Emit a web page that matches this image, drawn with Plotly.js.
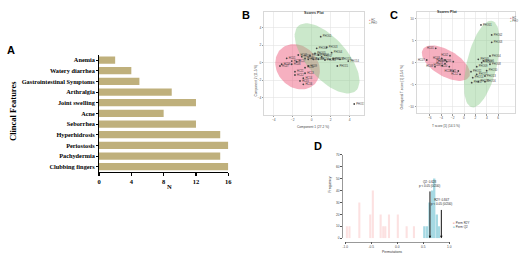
<!DOCTYPE html>
<html><head><meta charset="utf-8">
<script src="https://cdn.plot.ly/plotly-3.0.1.min.js"></script>
<style>html,body{margin:0;padding:0;background:#fff}#chart{width:520px;height:259px}</style>
</head><body><div id="chart"></div>
<script>
// ---------- Panel A data ----------
const featureNames = ["Anemia","Watery diarrhea","Gastrointestinal Symptoms","Arthralgia","Joint swelling","Acne","Seborrhea","Hyperhidrosis","Periostosis","Pachydermia","Clubbing fingers"];
const featureCounts = [2,4,5,9,12,8,12,15,16,15,16];
const nTicks = [0,4,8,12,16];

// ---------- Panel B data (PCA scores) ----------
const pcaHC_x = [-2.63,-1.41,-1.05,-0.36,-0.7,-3.16,-3.34,-2.1,-0.36,-0.7,-1.76,-1.76,-0.7,-0.88,-1.23,-0.88,-1.58,-2.1];
const pcaHC_y = [0.5,0.88,0.69,0.39,0.5,-0.18,-0.38,-0.18,-0.38,-0.57,-1.03,-1.41,-1.21,-1.78,-2.09,-2.47,0.11,0.19];
const pcaPHO_x = [0.95,0.53,1.58,2.1,0.35,0.7,1.05,-0.18,0.17,0.7,1.93,2.27,2.98,3.85,2.7,1.4,4.48];
const pcaPHO_y = [2.97,1.64,1.76,1.14,1.07,0.88,0.69,0.8,0.39,0.39,0.39,0.42,0.39,0.19,-0.38,0.31,-4.72];
const pcaTicks = [-4,-2,0,2,4];

// ---------- Panel C data (OPLS-DA scores) ----------
const oplsHC_x = [-4.96,-2.46,-3.91,-3.33,-1.88,-3.04,-6.54,-5.09,-3.8,-2.58,-1.0,-0.7,-1.88,-3.33];
const oplsHC_y = [3.27,1.59,1.0,0.61,0.23,0.23,0.61,-0.91,-0.68,-0.91,-1.89,-2.64,-1.89,-0.23];
const oplsPHO_x = [2.98,4.86,4.86,4.56,2.51,3.39,3.1,4.56,2.23,3.98,1.23,2.23,3.68,1.53,2.51,3.68,1.35];
const oplsPHO_y = [8.57,6.3,4.63,1.52,0.77,0.39,0,-0.36,-0.91,-1.82,-2.05,-2.64,-3.02,-3.41,-4.32,-4.32,-4.55];
const oplsXTicks = [-6,-4,-2,0,2,4,6];
const oplsYTicks = [-10,-5,0,5,10];

// ---------- Panel D data (permutation test) ----------
const permR2Y_x = [-0.97,-0.92,-0.73,-0.52,-0.47,-0.32,-0.27,-0.23,-0.16,0.01,0.18,0.32];
const permR2Y_n = [10,10,30,20,40,20,10,10,20,20,10,10];
const permQ2_x = [0.52,0.57,0.62,0.67,0.71,0.76,0.80];
const permQ2_n = [10,10,30,40,50,20,10];
const q2Value = 0.628, r2yValue = 0.847;
const permXTicks = [-1.0,-0.5,0.0,0.5,1.0];
const permYTicks = [0,10,20,30,40,50,60,70];

function labels(prefix, n){ const a=[]; for(let i=1;i<=n;i++) a.push(prefix+(i<10?"0":"")+i); return a; }

// confidence ellipse computed from the scores
function ellipse(xs, ys, k){
  const n = xs.length;
  const mx = xs.reduce((a,b)=>a+b,0)/n, my = ys.reduce((a,b)=>a+b,0)/n;
  let sxx=0,syy=0,sxy=0;
  for(let i=0;i<n;i++){ const dx=xs[i]-mx, dy=ys[i]-my; sxx+=dx*dx; syy+=dy*dy; sxy+=dx*dy; }
  sxx/=(n-1); syy/=(n-1); sxy/=(n-1);
  const tr=sxx+syy, det=sxx*syy-sxy*sxy;
  const d=Math.sqrt(Math.max(tr*tr/4-det,0));
  const l1=tr/2+d, l2=Math.max(tr/2-d,0);
  const th=0.5*Math.atan2(2*sxy, sxx-syy);
  const ex=[], ey=[];
  for(let j=0;j<=80;j++){
    const t=2*Math.PI*j/80;
    const a=k*Math.sqrt(l1)*Math.cos(t), b=k*Math.sqrt(l2)*Math.sin(t);
    ex.push(mx + a*Math.cos(th) - b*Math.sin(th));
    ey.push(my + a*Math.sin(th) + b*Math.cos(th));
  }
  return {x:ex, y:ey};
}

const pinkFill = "rgba(236,80,115,0.45)";
const greenFill = "rgba(130,200,130,0.42)";
const ptColor = "#444";
const kEll = 2.6;

const traces = [];
// A
traces.push({type:"bar", orientation:"h", y:featureNames, x:featureCounts, xaxis:"x", yaxis:"y",
  marker:{color:"#bfb07c"}, width:0.68, showlegend:false, hoverinfo:"skip"});
// B
const eB1 = ellipse(pcaHC_x, pcaHC_y, kEll), eB2 = ellipse(pcaPHO_x, pcaPHO_y, kEll);
traces.push({type:"scatter", mode:"lines", x:eB1.x, y:eB1.y, fill:"toself", fillcolor:pinkFill, line:{width:0}, xaxis:"x2", yaxis:"y2", showlegend:false, hoverinfo:"skip"});
traces.push({type:"scatter", mode:"lines", x:eB2.x, y:eB2.y, fill:"toself", fillcolor:greenFill, line:{width:0}, xaxis:"x2", yaxis:"y2", showlegend:false, hoverinfo:"skip"});
traces.push({type:"scatter", mode:"markers+text", x:pcaHC_x, y:pcaHC_y, text:labels("HC",pcaHC_x.length), textposition:"middle right", textfont:{size:2.6,color:"#333"}, marker:{size:1.8,color:ptColor}, xaxis:"x2", yaxis:"y2", showlegend:false});
traces.push({type:"scatter", mode:"markers+text", x:pcaPHO_x, y:pcaPHO_y, text:labels("PHO",pcaPHO_x.length), textposition:"middle right", textfont:{size:2.6,color:"#333"}, marker:{size:1.8,color:ptColor}, xaxis:"x2", yaxis:"y2", showlegend:false});
// C
const eC1 = ellipse(oplsHC_x, oplsHC_y, kEll), eC2 = ellipse(oplsPHO_x, oplsPHO_y, kEll);
traces.push({type:"scatter", mode:"lines", x:eC1.x, y:eC1.y, fill:"toself", fillcolor:pinkFill, line:{width:0}, xaxis:"x3", yaxis:"y3", showlegend:false, hoverinfo:"skip"});
traces.push({type:"scatter", mode:"lines", x:eC2.x, y:eC2.y, fill:"toself", fillcolor:greenFill, line:{width:0}, xaxis:"x3", yaxis:"y3", showlegend:false, hoverinfo:"skip"});
traces.push({type:"scatter", mode:"markers+text", x:oplsHC_x, y:oplsHC_y, text:labels("HC",oplsHC_x.length), textposition:"middle left", textfont:{size:2.6,color:"#333"}, marker:{size:1.8,color:ptColor}, xaxis:"x3", yaxis:"y3", showlegend:false});
traces.push({type:"scatter", mode:"markers+text", x:oplsPHO_x, y:oplsPHO_y, text:labels("PHO",oplsPHO_x.length), textposition:"middle right", textfont:{size:2.6,color:"#333"}, marker:{size:1.8,color:ptColor}, xaxis:"x3", yaxis:"y3", showlegend:false});
// D
traces.push({type:"bar", x:permR2Y_x, y:permR2Y_n, width:0.04, marker:{color:"rgba(250,200,200,0.55)"}, xaxis:"x4", yaxis:"y4", showlegend:false, hoverinfo:"skip"});
traces.push({type:"bar", x:permQ2_x, y:permQ2_n, width:0.045, marker:{color:"rgba(150,210,222,0.85)"}, xaxis:"x4", yaxis:"y4", showlegend:false, hoverinfo:"skip"});

const W=520,H=259;
const px = v => v/W, py = v => 1 - v/H;

const scoreAxis = (extra) => Object.assign({showgrid:true, gridcolor:"#e3e3e3", gridwidth:0.6, zeroline:false,
  showline:true, mirror:true, linecolor:"#c8c8c8", linewidth:0.7, ticks:"outside", ticklen:1.5, tickcolor:"#999",
  tickfont:{size:3.2, color:"#555", family:"Liberation Sans"}, fixedrange:true}, extra);

const ann = [];
const bold = "Liberation Sans";
ann.push({text:"<b>A</b>", x:px(4.5), y:py(42), xref:"paper", yref:"paper", showarrow:false, font:{size:11, family:bold, color:"#000"}});
ann.push({text:"<b>B</b>", x:px(246), y:py(7), xref:"paper", yref:"paper", showarrow:false, font:{size:11, family:bold, color:"#000"}});
ann.push({text:"<b>C</b>", x:px(400), y:py(7), xref:"paper", yref:"paper", showarrow:false, font:{size:11, family:bold, color:"#000"}});
ann.push({text:"<b>D</b>", x:px(318), y:py(146), xref:"paper", yref:"paper", showarrow:false, font:{size:11, family:bold, color:"#000"}});
// A titles
ann.push({text:"<b>Clincal Features</b>", x:px(6), y:py(111), xref:"paper", yref:"paper", showarrow:false, textangle:-90, font:{size:8.5, family:"Liberation Serif", color:"#000"}});
ann.push({text:"<b>N</b>", x:px(165), y:py(192), xref:"paper", yref:"paper", showarrow:false, font:{size:6.5, family:"Liberation Serif", color:"#000"}});
// B titles
ann.push({text:"<b>Scores Plot</b>", x:px(314), y:py(9), xref:"paper", yref:"paper", showarrow:false, font:{size:3.6, family:bold, color:"#333"}});
ann.push({text:"Component 1 (27.2 %)", x:px(313), y:py(126.5), xref:"paper", yref:"paper", showarrow:false, font:{size:3.2, family:bold, color:"#444"}});
ann.push({text:"Component 2 (11.5 %)", x:px(255.5), y:py(63), xref:"paper", yref:"paper", showarrow:false, textangle:-90, font:{size:3.2, family:bold, color:"#444"}});
ann.push({text:"<span style='color:#e66a86'>●</span> HC<br><span style='color:#7cc47c'>●</span> PHO", x:px(367), y:py(15.5), xref:"paper", yref:"paper", xanchor:"left", yanchor:"top", align:"left", showarrow:false, font:{size:2.6, family:bold, color:"#444"}});
// C titles
ann.push({text:"<b>Scores Plot</b>", x:px(460), y:py(8), xref:"paper", yref:"paper", showarrow:false, font:{size:3.6, family:bold, color:"#333"}});
ann.push({text:"T score [1] (14.5 %)", x:px(462), y:py(125.5), xref:"paper", yref:"paper", showarrow:false, font:{size:3.2, family:bold, color:"#444"}});
ann.push({text:"Orthogonal T score [1] (15.6 %)", x:px(406), y:py(63), xref:"paper", yref:"paper", showarrow:false, textangle:-90, font:{size:3.2, family:bold, color:"#444"}});
ann.push({text:"<span style='color:#e66a86'>●</span> HC<br><span style='color:#7cc47c'>●</span> PHO", x:px(508), y:py(14), xref:"paper", yref:"paper", xanchor:"left", yanchor:"top", align:"left", showarrow:false, font:{size:2.6, family:bold, color:"#444"}});
// D titles
ann.push({text:"Permutations", x:px(404), y:py(256), xref:"paper", yref:"paper", showarrow:false, font:{size:3.4, family:bold, color:"#333"}});
ann.push({text:"Frequency", x:px(329.5), y:py(195), xref:"paper", yref:"paper", showarrow:false, textangle:-90, font:{size:3.4, family:bold, color:"#333"}});
ann.push({text:"<span style='color:#f4b8b8'>■</span> Perm R2Y<br><span style='color:#96d2de'>■</span> Perm Q2", x:px(451), y:py(219), xref:"paper", yref:"paper", xanchor:"left", yanchor:"top", align:"left", showarrow:false, font:{size:3, family:bold, color:"#333"}});
// D arrows
ann.push({text:"", x:q2Value, y:0, ax:q2Value, ay:40.5, xref:"x4", yref:"y4", axref:"x4", ayref:"y4", showarrow:true, arrowhead:2, arrowsize:0.5, arrowwidth:1, arrowcolor:"#111"});
ann.push({text:"", x:r2yValue, y:0, ax:r2yValue, ay:25, xref:"x4", yref:"y4", axref:"x4", ayref:"y4", showarrow:true, arrowhead:2, arrowsize:0.5, arrowwidth:1, arrowcolor:"#111"});
ann.push({text:"Q2: "+q2Value.toFixed(3)+"<br>p &lt; 0.05 (0/200)", x:q2Value, y:40.8, xref:"x4", yref:"y4", yanchor:"bottom", showarrow:false, font:{size:3, family:bold, color:"#222"}});
ann.push({text:"R2Y: "+r2yValue.toFixed(3)+"<br>p &lt; 0.05 (0/200)", x:r2yValue+0.005, y:25.3, xref:"x4", yref:"y4", yanchor:"bottom", showarrow:false, font:{size:3, family:bold, color:"#222"}});

const layout = {
  width:W, height:H, autosize:false, margin:{l:0,r:0,t:0,b:0,pad:0},
  paper_bgcolor:"#fff", plot_bgcolor:"rgba(0,0,0,0)", showlegend:false, barmode:"overlay",
  font:{family:"Liberation Sans"},
  xaxis:{domain:[px(99), px(228.3)], range:[0,16], tickvals:nTicks, ticks:"outside", ticklen:3, tickwidth:1.2, tickcolor:"#000",
    showline:true, linecolor:"#000", linewidth:1.4, showgrid:false, zeroline:false, anchor:"y",
    tickfont:{size:6.5, family:"Liberation Serif", color:"#000", weight:"bold"}, fixedrange:true},
  yaxis:{domain:[py(172), py(54.7)], autorange:"reversed", showline:true, linecolor:"#000", linewidth:1.4, ticks:"outside", ticklen:1.5, tickcolor:"#000",
    showgrid:false, anchor:"x", tickfont:{size:6.3, family:"Liberation Serif", color:"#000", weight:"bold"}, fixedrange:true},
  xaxis2: scoreAxis({domain:[px(264), px(364.3)], range:[-5.02,5.54], tickvals:pcaTicks, anchor:"y2"}),
  yaxis2: scoreAxis({domain:[py(115), py(12.3)], range:[-5.98,5.76], tickvals:pcaTicks, anchor:"x2"}),
  xaxis3: scoreAxis({domain:[px(416.7), px(515)], range:[-8.3,8.95], tickvals:oplsXTicks, anchor:"y3"}),
  yaxis3: scoreAxis({domain:[py(113.3), py(12.3)], range:[-11.5,11.45], tickvals:oplsYTicks, anchor:"x3"}),
  xaxis4:{domain:[px(345.3), px(449.3)], range:[-1.0,1.0], tickvals:permXTicks, ticktext:permXTicks.map(v=>v.toFixed(1)),
    anchor:"free", position:py(241.7), showline:true, linecolor:"#555", linewidth:0.6, ticks:"outside", ticklen:1.5, tickcolor:"#555",
    showgrid:false, zeroline:false, tickfont:{size:3.2, color:"#444"}, fixedrange:true},
  yaxis4:{domain:[py(238.3), py(154.7)], range:[0,70], tickvals:permYTicks, anchor:"free", position:px(341.7),
    showline:true, linecolor:"#555", linewidth:0.6, ticks:"outside", ticklen:1.5, tickcolor:"#555",
    showgrid:false, zeroline:false, tickfont:{size:3.2, color:"#444"}, fixedrange:true},
  annotations: ann
};

Plotly.newPlot("chart", traces, layout, {displayModeBar:false, staticPlot:true});
</script></body></html>
